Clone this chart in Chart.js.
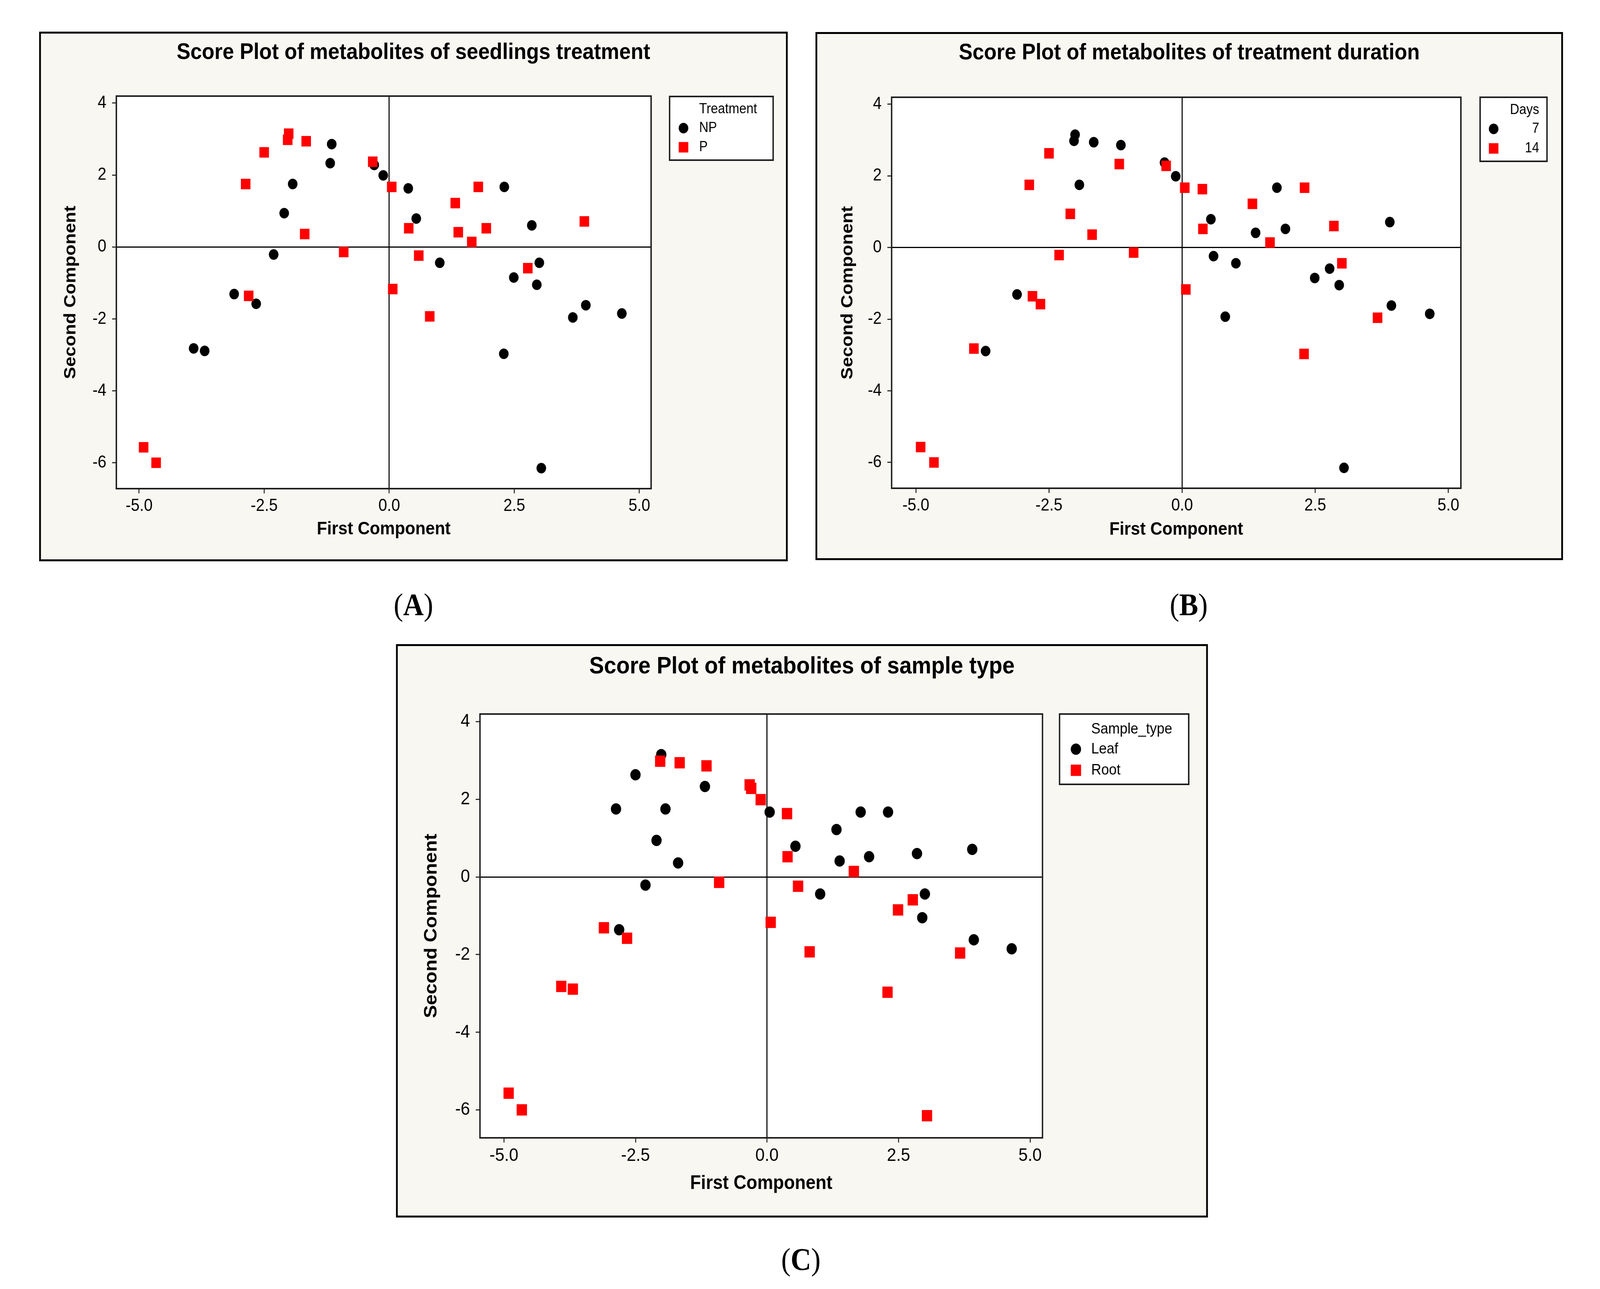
<!DOCTYPE html>
<html>
<head>
<meta charset="utf-8">
<title>Score plots</title>
<script src="https://cdn.jsdelivr.net/npm/chart.js@4.4.1/dist/chart.umd.min.js"></script>
<style>
  html, body { margin: 0; padding: 0; background: #fff; overflow: hidden; }
  #frame { position: relative; overflow: hidden; background: #fff; }
  #stage { position: absolute; left: 0; top: 0; width: 4497px; height: 3300px; transform-origin: 0 0; background: #fff; }
  .panel { position: absolute; box-sizing: border-box; border: 5px solid #000; background: #f9f7f2; }
  .panel canvas { position: absolute; left: 0; top: 0; }
  .ptitle { position: absolute; left: 0; width: 100%; text-align: center; font-family: 'Liberation Sans', Arial, sans-serif;
            font-weight: bold; color: #000; line-height: 1; white-space: nowrap; z-index: 2; }
  .tag { position: absolute; font-family: 'Liberation Serif', 'Times New Roman', serif; font-size: 80px; line-height: 1;
         color: #000; white-space: nowrap; }
</style>
</head>
<body>
<div id="frame">
<div id="stage">
<div id="panelA" class="panel"><div class="ptitle">Score Plot of metabolites of seedlings treatment</div><canvas id="chartA"></canvas></div>
<div id="panelB" class="panel"><div class="ptitle">Score Plot of metabolites of treatment duration</div><canvas id="chartB"></canvas></div>
<div id="panelC" class="panel"><div class="ptitle">Score Plot of metabolites of sample type</div><canvas id="chartC"></canvas></div>
<div class="tag" id="tagA">(<b>A</b>)</div>
<div class="tag" id="tagB">(<b>B</b>)</div>
<div class="tag" id="tagC">(<b>C</b>)</div>
</div>
</div>

<script>
// scores of the 47 samples (first and second principal component)
var pc1 = [-2.01, -2.50, -1.18, -2.87, -1.93, -2.10, -1.69, -2.31, -2.81, 0.05, 0.54, 1.32, 1.78, 2.30, 1.38, 1.94, 2.85, 3.90, 1.01, 3.00, 2.95, 3.93, 4.65,
           -2.03, -1.66, -1.15, -0.33, -0.30, -0.12, 0.38, 0.39, 1.65, -0.91, 0.59, 0.07, 0.81, -3.10, -2.66, -3.91, -3.69, -4.91, -4.66, 3.04, 2.29, 2.49, 2.77, 3.67];
var pc2 = [3.15, 2.63, 2.33, 1.75, 1.75, 0.94, 0.36, -0.21, -1.36, 1.67, 0.79, 1.22, 1.67, 1.67, 0.41, 0.52, 0.60, 0.71, -0.44, -0.44, -1.05, -1.62, -1.85,
           2.98, 2.94, 2.86, 2.37, 2.28, 1.99, 1.63, 0.52, 0.14, -0.14, -0.24, -1.17, -1.93, -1.31, -1.58, -2.82, -2.89, -5.57, -6.00, -6.15, -2.97, -0.85, -0.59, -1.96];

// grouping of each sample
var treatment = ['P', 'P', 'NP', 'P', 'NP', 'NP', 'P', 'NP', 'P', 'P', 'NP', 'P', 'P', 'NP', 'P', 'P', 'NP', 'P', 'NP', 'NP', 'NP', 'NP', 'NP',
                 'P', 'P', 'NP', 'P', 'NP', 'NP', 'NP', 'P', 'P', 'P', 'P', 'P', 'P', 'NP', 'NP', 'NP', 'NP', 'P', 'P', 'NP', 'NP', 'NP', 'P', 'NP'];
var days = [7, 14, 14, 14, 7, 14, 14, 14, 14, 14, 7, 14, 7, 14, 7, 7, 14, 7, 7, 14, 7, 7, 7,
            7, 7, 7, 7, 14, 7, 14, 14, 14, 14, 7, 14, 7, 7, 14, 14, 7, 14, 14, 7, 14, 7, 7, 14];
var sampleType = ['Leaf', 'Leaf', 'Leaf', 'Leaf', 'Leaf', 'Leaf', 'Leaf', 'Leaf', 'Leaf', 'Leaf', 'Leaf', 'Leaf', 'Leaf', 'Leaf', 'Leaf', 'Leaf', 'Leaf', 'Leaf', 'Leaf', 'Leaf', 'Leaf', 'Leaf', 'Leaf',
                  'Root', 'Root', 'Root', 'Root', 'Root', 'Root', 'Root', 'Root', 'Root', 'Root', 'Root', 'Root', 'Root', 'Root', 'Root', 'Root', 'Root', 'Root', 'Root', 'Root', 'Root', 'Root', 'Root', 'Root'];

// axes
var xTicks = [-5, -2.5, 0, 2.5, 5];
var yTicks = [-6, -4, -2, 0, 2, 4];
var xRange = [-5.455, 5.235];
var yRange = [-6.72, 4.195];

var FONT = "'Liberation Sans', Arial, sans-serif";

// page geometry (pixels of the 4497 x 3300 picture)
var panels = [
    { id: 'A', groups: treatment, levels: ['NP', 'P'], legendTitle: 'Treatment',
      box: [110, 81, 2214, 1437], plot: [327, 246, 1830, 1251],
      titleY: 130, yTitleX: 199, xTitleY: 1355,
      legend: { rect: [1882, 247, 2173, 410], titleY: 280, rows: [328, 377], markerX: 1921, textX: 1965, align: 'left' },
      fonts: { title: 58, axis: 47, tick: 44, legend: 36 }, dot: 13.5, sq: 19,
      tag: [1162, 1575] },
    { id: 'B', groups: days, levels: [7, 14], legendTitle: 'Days',
      box: [2292, 82, 4393, 1434], plot: [2506, 249, 4106, 1250],
      titleY: 131, yTitleX: 2383, xTitleY: 1356,
      legend: { rect: [4160, 249, 4348, 413], titleY: 282, rows: [330, 380], markerX: 4198, textX: 4326, align: 'right' },
      fonts: { title: 58, axis: 47, tick: 44, legend: 36 }, dot: 13.5, sq: 19,
      tag: [3341, 1575] },
    { id: 'C', groups: sampleType, levels: ['Leaf', 'Root'], legendTitle: 'Sample_type',
      box: [1113, 1649, 3395, 3117], plot: [1349, 1828, 2930, 2913],
      titleY: 1702, yTitleX: 1213, xTitleY: 3030,
      legend: { rect: [2978, 1828, 3341, 2008], titleY: 1867, rows: [1918, 1972], markerX: 3024, textX: 3067, align: 'left' },
      fonts: { title: 62, axis: 50, tick: 47, legend: 39 }, dot: 14.5, sq: 20.5,
      tag: [2251, 3251] }
];

// the window can be smaller than the picture: stretch the 4497 x 3300 stage over it
var vw = window.innerWidth || 4497, vh = window.innerHeight || 3300;
var sx = vw / 4497, sy = vh / 3300;
var frame = document.getElementById('frame');
frame.style.width = vw + 'px';
frame.style.height = vh + 'px';
document.getElementById('stage').style.transform = 'scale(' + sx + ',' + sy + ')';
var chartDpr = (window.devicePixelRatio || 1) * Math.max(sx, sy);

// white plot area with a dark frame
var plotFrame = {
    id: 'plotFrame',
    beforeDraw: function (chart) {
        var a = chart.chartArea, ctx = chart.ctx;
        ctx.save();
        ctx.fillStyle = '#fff';
        ctx.fillRect(a.left, a.top, a.width, a.height);
        ctx.restore();
    },
    beforeDatasetsDraw: function (chart) {
        var a = chart.chartArea, ctx = chart.ctx;
        ctx.save();
        ctx.lineWidth = 4;
        ctx.strokeStyle = '#1e1e1e';
        ctx.strokeRect(a.left, a.top, a.width, a.height);
        ctx.restore();
    }
};

// minitab style legend box
var scoreLegend = {
    id: 'scoreLegend',
    afterDraw: function (chart, args, o) {
        var ctx = chart.ctx;
        ctx.save();
        ctx.fillStyle = '#fff';
        ctx.fillRect(o.x, o.y, o.w, o.h);
        ctx.lineWidth = 4;
        ctx.strokeStyle = '#1e1e1e';
        ctx.strokeRect(o.x, o.y, o.w, o.h);
        ctx.font = o.size + 'px ' + FONT;
        ctx.textBaseline = 'middle';
        ctx.textAlign = o.align;
        ctx.fillStyle = '#000';
        ctx.fillText(o.title, o.textX, o.titleY);
        chart.data.datasets.forEach(function (ds, i) {
            var y = o.rows[i];
            ctx.fillStyle = ds.backgroundColor;
            Chart.helpers.drawPoint(ctx, { pointStyle: ds.pointStyle, radius: ds.pointRadius, borderWidth: 0, rotation: 0 }, o.markerX, y);
            ctx.fillStyle = '#000';
            ctx.fillText(String(ds.label), o.textX, y);
        });
        ctx.restore();
    }
};

function makeChart(p) {
    var el = document.getElementById('panel' + p.id);
    var bw = 5;
    el.style.left = p.box[0] + 'px';
    el.style.top = p.box[1] + 'px';
    el.style.width = (p.box[2] - p.box[0]) + 'px';
    el.style.height = (p.box[3] - p.box[1]) + 'px';
    var ox = p.box[0] + bw, oy = p.box[1] + bw;
    var W = p.box[2] - p.box[0] - 2 * bw, H = p.box[3] - p.box[1] - 2 * bw;

    var t = el.querySelector('.ptitle');
    t.style.fontSize = p.fonts.title + 'px';
    t.style.top = (p.titleY - oy - 0.488 * p.fonts.title) + 'px';

    var canvas = el.querySelector('canvas');
    canvas.width = W;
    canvas.height = H;
    canvas.style.width = W + 'px';
    canvas.style.height = H + 'px';

    var plotL = p.plot[0] - ox, plotT = p.plot[1] - oy, plotR = p.plot[2] - ox, plotB = p.plot[3] - oy;
    var lh = p.fonts.axis * 1.2;
    var xH = p.xTitleY - p.plot[3] + lh / 2;

    var datasets = p.levels.map(function (lv, i) {
        var pts = [];
        for (var k = 0; k < pc1.length; k++) {
            if (p.groups[k] === lv) pts.push({ x: pc1[k], y: pc2[k] });
        }
        return {
            label: lv,
            data: pts,
            pointStyle: i === 0 ? 'circle' : 'rect',
            pointRadius: i === 0 ? p.dot : p.sq,
            backgroundColor: i === 0 ? '#000000' : '#ff0000',
            borderWidth: 0,
            showLine: false,
            order: i === 0 ? 1 : 0
        };
    });

    var gridOpts = {
        color: function (c) { return c.tick && c.tick.value === 0 ? '#000' : 'rgba(0,0,0,0)'; },
        lineWidth: 3,
        tickColor: '#333',
        tickWidth: 3,
        tickLength: 12
    };

    return new Chart(canvas, {
        type: 'scatter',
        data: { datasets: datasets },
        options: {
            responsive: false,
            animation: false,
            devicePixelRatio: chartDpr,
            events: [],
            layout: { padding: { left: 0, top: plotT, right: W - plotR, bottom: H - plotB - xH } },
            plugins: {
                legend: { display: false },
                title: { display: false },
                tooltip: { enabled: false },
                scoreLegend: {
                    x: p.legend.rect[0] - ox, y: p.legend.rect[1] - oy,
                    w: p.legend.rect[2] - p.legend.rect[0], h: p.legend.rect[3] - p.legend.rect[1],
                    title: p.legendTitle, titleY: p.legend.titleY - oy,
                    rows: p.legend.rows.map(function (r) { return r - oy; }),
                    markerX: p.legend.markerX - ox, textX: p.legend.textX - ox,
                    align: p.legend.align, size: p.fonts.legend
                }
            },
            scales: {
                x: {
                    type: 'linear',
                    min: xRange[0],
                    max: xRange[1],
                    afterBuildTicks: function (s) { s.ticks = xTicks.map(function (v) { return { value: v }; }); },
                    afterFit: function (s) { s.height = xH; },
                    ticks: {
                        callback: function (v) { return Number(v).toFixed(1); },
                        font: { family: FONT, size: p.fonts.tick },
                        color: '#000',
                        padding: 6,
                        maxRotation: 0,
                        autoSkip: false
                    },
                    grid: gridOpts,
                    border: { display: false },
                    title: {
                        display: true,
                        text: 'First Component',
                        color: '#000',
                        font: { family: FONT, size: p.fonts.axis, weight: 'bold' },
                        padding: { top: 0, bottom: 0 }
                    }
                },
                y: {
                    type: 'linear',
                    min: yRange[0],
                    max: yRange[1],
                    afterBuildTicks: function (s) { s.ticks = yTicks.map(function (v) { return { value: v }; }); },
                    afterFit: function (s) { s.width = plotL; },
                    ticks: {
                        callback: function (v) { return String(v); },
                        font: { family: FONT, size: p.fonts.tick },
                        color: '#000',
                        padding: 16,
                        autoSkip: false
                    },
                    grid: gridOpts,
                    border: { display: false },
                    title: {
                        display: true,
                        text: 'Second Component',
                        color: '#000',
                        font: { family: FONT, size: p.fonts.axis, weight: 'bold' },
                        padding: { top: p.yTitleX - ox - lh / 2, bottom: 0 }
                    }
                }
            }
        },
        plugins: [plotFrame, scoreLegend]
    });
}

panels.forEach(function (p) {
    makeChart(p);
    var tag = document.getElementById('tag' + p.id);
    tag.style.left = p.tag[0] + 'px';
    tag.style.top = (p.tag[1] - 67) + 'px';
    tag.style.transform = 'translateX(-50%)';
});
</script>
</body>
</html>
